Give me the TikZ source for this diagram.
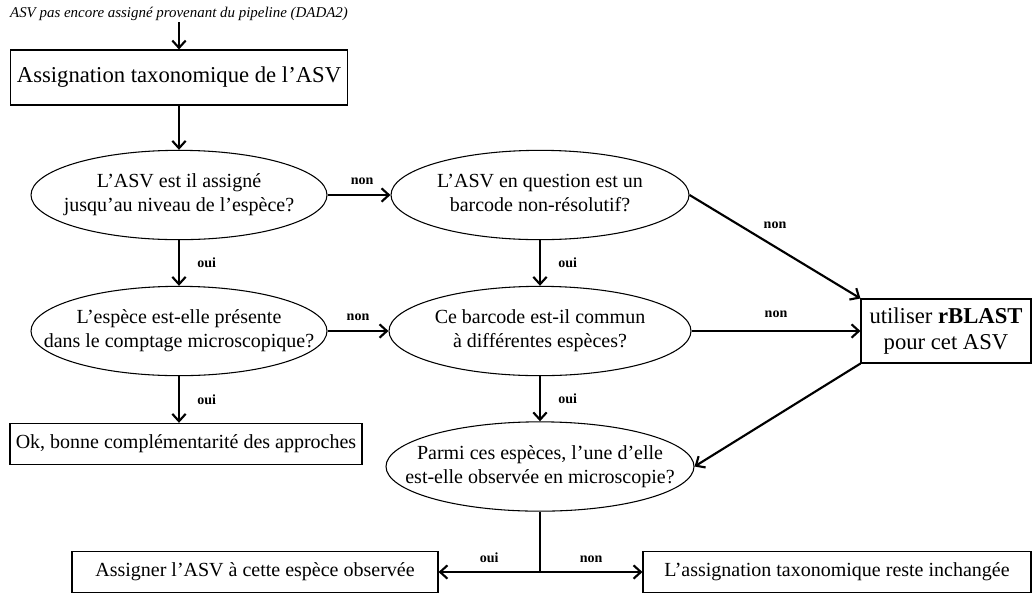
\documentclass[tikz,border=0pt]{standalone}
\usepackage{fontspec}
\setmainfont{Liberation Serif}
\usetikzlibrary{arrows.meta, positioning, shapes}
\newcommand{\duo}[2]{\makebox[0pt]{\begin{tabular}{@{}c@{}}#1\\#2\end{tabular}}}
\tikzset{
        >={Straight Barb[length=5.5pt,width=10pt]}, % open barbed heads
        link/.style={->, line width=1.6pt}, % every connector
        ask/.style={
                ellipse,
                draw,
                line width=0.8pt,
                minimum width=#1,
                minimum height=67pt,
                inner sep=0pt,
                font=\fontsize{15}{18}\selectfont,
        },
        plain box/.style={
                draw,
                line width=0.8pt,
                minimum width=#1,
                minimum height=31pt,
                inner sep=2pt,
                font=\fontsize{15}{18}\selectfont,
        },
        answer/.style={
                inner sep=1pt,
                font=\bfseries\fontsize{10.5}{12}\selectfont,
        }
}

\begin{document}
\begin{tikzpicture}[x=0.75pt, y=-0.75pt]
    \useasboundingbox (0,0) rectangle (1032,594);
    \node [inner sep=1pt, font=\itshape\fontsize{11.2}{13}\selectfont] (input) at (179,14) {ASV pas encore assigné provenant du pipeline (DADA2)};
    \node [plain box=252.75pt, minimum height=41.25pt, font=\fontsize{17}{20}\selectfont] (assign) at (179,77.5) {Assignation taxonomique de l'ASV};
    \node [ask=222pt] (species) at (179,195) {\duo{L'ASV est il assigné}{jusqu'au niveau de l'espèce?}};
    \node [ask=223.5pt] (barcode) at (540,195) {\duo{L'ASV en question est un}{barcode non-résolutif?}};
    \node [ask=222pt] (present) at (179,331) {\duo{L'espèce est-elle présente}{dans le comptage microscopique?}};
    \node [ask=226.5pt] (shared) at (540,331) {\duo{Ce barcode est-il commun}{à différentes espèces?}};
    \node [ask=231pt] (seen) at (540,466.5) {\duo{Parmi ces espèces, l'une d'elle}{est-elle observée en microscopie?}};
    \node [plain box=127.5pt, minimum height=48pt, align=center, font=\fontsize{17}{20}\selectfont] (blast) at (946,331) {utiliser \textbf{rBLAST}\\pour cet ASV};
    \node [plain box=264pt] (ok) at (186,444) {Ok, bonne complémentarité des approches};
    \node [plain box=274.5pt] (keep) at (255,572) {Assigner l'ASV à cette espèce observée};
    \node [plain box=291pt] (same) at (837,572) {L'assignation taxonomique reste inchangée};
    \coordinate (split) at (seen.south |- keep.east);

    \draw [link] (input) -- (assign);
    \draw [link] (assign) -- (species);
    \draw [link] (species) -- node [answer, above=6pt, pos=0.55] (no1) {non} (barcode);
    \draw [link] (species) -- node [answer, right=12pt] (yes1) {oui} (present);
    \draw [link] (barcode) -- node [answer, right=12pt] (yes2) {oui} (shared);
    \draw [link] (barcode.east) -- node [answer, above=12pt] (no2) {non} (blast.north west);
    \draw [link] (present) -- node [answer, above=6pt] (no3) {non} (shared);
    \draw [link] (present) -- node [answer, right=12pt] (yes3) {oui} (present.south |- ok.north);
    \draw [link] (shared) -- node [answer, above=8pt] (no4) {non} (blast);
    \draw [link] (shared) -- node [answer, right=12pt] (yes4) {oui} (seen);
    \draw [link] (blast.south west) -- (seen.east);
    \draw [line width=1.6pt] (seen) -- (split);
    \draw [link] (split) -- node [answer, above=5pt] (yes5) {oui} (keep);
    \draw [link] (split) -- node [answer, above=5pt] (no5) {non} (same);
\end{tikzpicture}
\end{document}
